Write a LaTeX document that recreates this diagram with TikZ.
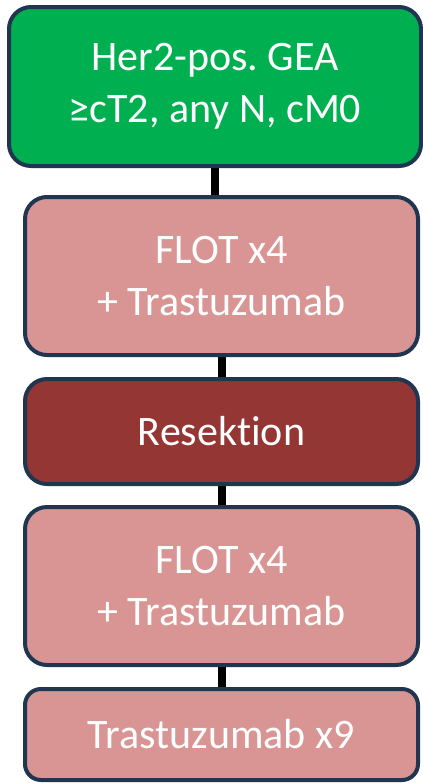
\documentclass[tikz,border=0pt]{standalone}
\usepackage{fontspec}
\setmainfont{Carlito}[Ligatures={NoCommon}]
\usepackage{tikz}
\usetikzlibrary{backgrounds}
\frenchspacing
\definecolor{boxline}{HTML}{1F3550}
\definecolor{stagegreen}{HTML}{00B050}
\definecolor{therapypink}{HTML}{D99594}
\definecolor{surgeryred}{HTML}{943634}
\tikzset{
  stepbox/.style={draw=boxline, line width=2pt, rounded corners=11pt, text=white,
    align=center, font=\fontsize{21}{26}\selectfont, inner sep=0pt},
  link/.style={line width=4pt, black}
}

\begin{document}
\begin{tikzpicture}[line cap=butt,line join=round,x=0.5pt,y=-0.5pt]
\useasboundingbox (0,0) rectangle (423,783);
\node[stepbox, fill=stagegreen, minimum width=206pt, minimum height=79.5pt] (stage) at (215,86.5) {Her2-pos. GEA\\≥cT2, any N, cM0};
\node[stepbox, fill=therapypink, minimum width=196.5pt, minimum height=79pt] (preop) at (221.5,276) {FLOT x4\\+ Trastuzumab};
\node[stepbox, fill=surgeryred, minimum width=196.5pt, minimum height=52.5pt] (resect) at (221.5,431.5) {Resektion};
\node[stepbox, fill=therapypink, minimum width=196.5pt, minimum height=79pt] (postop) at (221.5,586) {FLOT x4\\+ Trastuzumab};
\node[stepbox, fill=therapypink, minimum width=196.5pt, minimum height=45.5pt, rounded corners=8pt] (maint) at (221.5,734.5) {Trastuzumab x9};
\begin{scope}[on background layer]
\draw[link] (stage.south) -- (stage.south |- preop.north);
\draw[link] (preop) -- (resect);
\draw[link] (resect) -- (postop);
\draw[link] (postop) -- (maint);
\end{scope}
\end{tikzpicture}
\end{document}
